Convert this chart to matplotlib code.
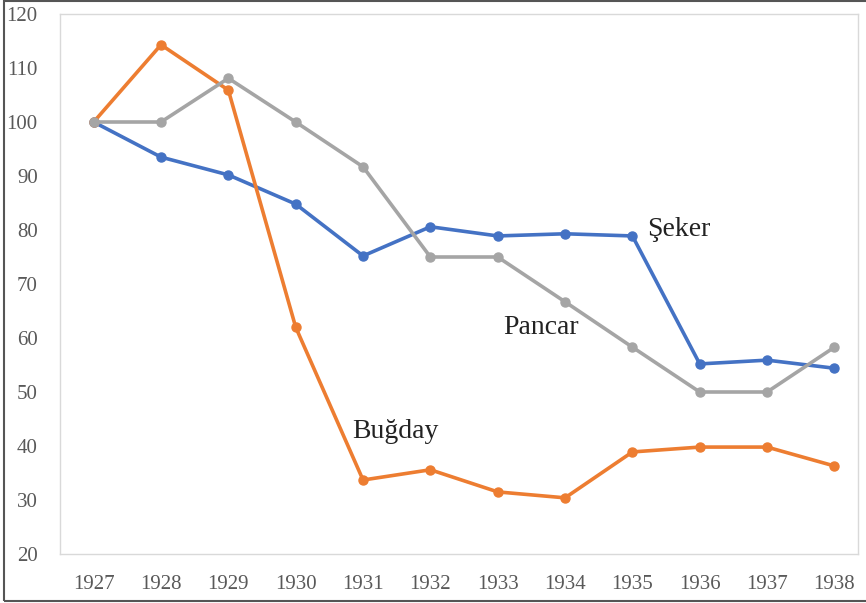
import matplotlib
matplotlib.use("Agg")
import matplotlib.pyplot as plt
from matplotlib.patches import Rectangle

years = ["1927", "1928", "1929", "1930", "1931", "1932", "1933", "1934", "1935", "1936", "1937", "1938"]
seker = [100, 93.5, 90.2, 84.8, 75.2, 80.6, 78.9, 79.3, 78.9, 55.2, 55.9, 54.4]
bugday = [100, 114.3, 105.9, 62.0, 33.7, 35.6, 31.5, 30.4, 38.9, 39.8, 39.8, 36.3]
pancar = [100, 100, 108.1, 100, 91.7, 75.0, 75.0, 66.7, 58.3, 50.0, 50.0, 58.3]

plt.rcParams['font.family'] = ['Liberation Serif', 'DejaVu Serif']

fig = plt.figure(figsize=(8.66, 6.03), dpi=100)
ax = fig.add_axes([60 / 866, 49 / 603, 798 / 866, 540 / 603])

x = list(range(len(years)))
ax.plot(x, seker, color='#4472C4', lw=2.6, marker='o', ms=6.5, solid_joinstyle='round')
ax.plot(x, bugday, color='#ED7D31', lw=2.6, marker='o', ms=6.5, solid_joinstyle='round')
ax.plot(x, pancar, color='#A5A5A5', lw=2.6, marker='o', ms=6.5, solid_joinstyle='round')

ax.set_xlim(-0.5, 11.35)
ax.set_ylim(20, 120)
ax.set_yticks(range(20, 121, 10))
ax.set_xticks(x)
ax.set_xticklabels(years)
ax.tick_params(length=0, labelsize=15, labelcolor='#595959')
ax.tick_params(axis='x', pad=15)
ax.tick_params(axis='y', pad=16)
for s in ax.spines.values():
    s.set_color('#D9D9D9')
    s.set_linewidth(1)

ax.text(8.22, 80, "Şeker", fontsize=20, va='center', ha='left', color='#222222')
ax.text(6.08, 62, "Pancar", fontsize=20, va='center', ha='left', color='#222222')
ax.text(3.84, 42.6, "Buğday", fontsize=20, va='center', ha='left', color='#222222')

fig.patches.append(Rectangle((4 / 866, 2 / 603), 1.0, 600 / 603, transform=fig.transFigure,
                             fill=False, edgecolor='#555555', lw=1.5))

fig.savefig("out.png", dpi=100)
